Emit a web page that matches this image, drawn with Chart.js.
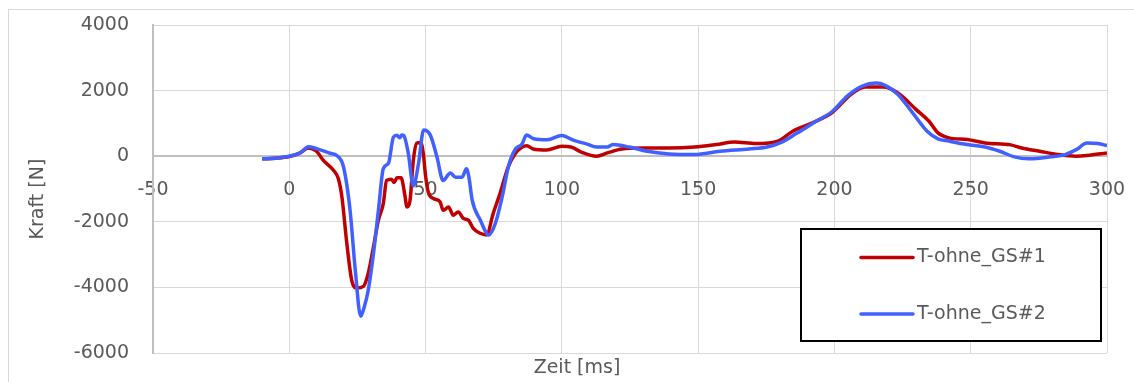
<!DOCTYPE html>
<html>
<head>
<meta charset="utf-8">
<script src="https://cdn.jsdelivr.net/npm/chart.js@4/dist/chart.umd.min.js"></script>
<style>
  html, body { margin: 0; padding: 0; background: #fff; }
  canvas { display: block; }
</style>
</head>
<body>
<canvas id="kraftChart" width="1134" height="382"></canvas>
<script>
// --- DATA ---
const seriesNames = ['T-ohne_GS#1', 'T-ohne_GS#2'];
const seriesColors = ['#C00000', '#4060FF'];

// T-ohne_GS#1 (red)
const zeit1 = [-10, -5, 0, 4, 7, 10, 12.5, 16.2, 18, 19.3, 21.1, 23, 24.8, 27.2, 29, 30.9, 32.7, 34.5, 35.7, 37.5, 38.5, 39.5, 41,
  42.5, 43.1, 44.3, 45.5, 46.8, 48.2, 49.2, 50, 51, 52.9, 55.3, 56.5, 58.4, 60.2, 62, 63.9, 65.7, 67.5, 70, 72.4, 74.8, 77.3,
  80.3, 82.8, 85.3, 87.1, 89.5, 94.4, 100, 103.3, 107.3, 112.7, 116.7, 122, 130, 139.3, 148.7, 156.7, 163.3, 171.3, 179.3,
  184.7, 191.3, 199.3, 206, 211.3, 218, 223.3, 230, 234.7, 238, 242, 248.7, 255.3, 264.7, 268.7, 275.3, 282, 288.7, 292.7, 300];
const kraft1 = [-80, -60, -10, 100, 250, 150, -130, -430, -690, -1240, -2650, -3820, -4020, -3970, -3560, -2760, -1950, -1440, -740, -700, -800, -660, -660,
  -1240, -1550, -1340, -130, 400, 420, 60, -600, -1100, -1290, -1390, -1650, -1550, -1800, -1700, -1900, -1950, -2200, -2350, -2400, -1750, -1140,
  -330, 70, 270, 320, 220, 190, 300, 280, 120, 0, 100, 220, 250, 250, 280, 355, 430, 385, 460,
  760, 995, 1340, 1880, 2110, 2110, 1930, 1420, 1065, 710, 560, 510, 405, 345, 250, 150, 50, 0, 20, 100];

// T-ohne_GS#2 (blue)
const zeit2 = [-10, -5, 0, 4, 7, 10, 15, 17.4, 19.9, 22.3, 24.2, 26.2, 27.5, 29, 30.9, 32.7, 34.5, 36.4, 38.2, 39.5, 40.5, 41.3, 42,
  43.6, 45.5, 47.4, 49.3, 51.7, 54.2, 56.4, 59.1, 61, 63.4, 65, 65.9, 67.1, 70.1, 73.2, 75.6, 78.1, 80.5, 83, 85.4, 87, 89.7,
  94.6, 100, 104.4, 109.3, 112.7, 116.7, 118.7, 124.7, 131.3, 139.3, 148.7, 158, 168.7, 175.3, 180.7, 186, 192.7, 199.3,
  204.7, 210, 215.3, 219.3, 223.3, 228.7, 234, 238, 242, 248.7, 255.3, 260.7, 266, 271.3, 279.3, 284.7, 288.7, 292.7, 296.7, 300];
const kraft2 = [-80, -60, 0, 100, 290, 230, 90, 20, -330, -1650, -3460, -4880, -4600, -4070, -2960, -1650, -380, -210, 580, 640, 560, 650, 630,
  120, -900, -230, 800, 650, -30, -740, -510, -640, -640, -380, -640, -1340, -1950, -2400, -2050, -1240, -280, 220, 370, 650, 530,
  500, 630, 480, 370, 280, 280, 355, 280, 150, 70, 50, 150, 220, 280, 430, 690, 1035, 1370,
  1830, 2130, 2230, 2130, 1880, 1320, 760, 530, 460, 355, 280, 150, -20, -80, -20, 50, 200, 400, 385, 325];

// axis settings
const xMin = -50, xMax = 300, xStep = 50;
const yMin = -6000, yMax = 4000, yStep = 2000;
const xTitle = 'Zeit [ms]';
const yTitle = 'Kraft [N]';

const FONT = '"DejaVu Sans", sans-serif';
const TEXT_COLOR = '#595959';

function toPoints(xs, ys) {
  return xs.map((x, i) => ({ x: x, y: ys[i] }));
}

// plain numbers, no thousands separator
function plainTick(value) {
  return String(value);
}

// outer frame, axis titles and the boxed legend
const decorPlugin = {
  id: 'decor',
  beforeDraw(chart) {
    const ctx = chart.ctx;
    ctx.save();
    ctx.fillStyle = '#ffffff';
    ctx.fillRect(0, 0, chart.width, chart.height);
    ctx.strokeStyle = '#d9d9d9';
    ctx.lineWidth = 1;
    ctx.strokeRect(8.5, 9.5, chart.width + 20, chart.height + 20);
    ctx.restore();
  },
  afterDraw(chart) {
    const ctx = chart.ctx;
    ctx.save();
    ctx.font = '19px ' + FONT;
    ctx.fillStyle = TEXT_COLOR;

    // x title
    ctx.textAlign = 'center';
    ctx.textBaseline = 'alphabetic';
    ctx.fillText(xTitle, 577, 373);

    // y title
    ctx.save();
    ctx.translate(43, 199);
    ctx.rotate(-Math.PI / 2);
    ctx.fillText(yTitle, 0, 0);
    ctx.restore();

    // legend box
    ctx.fillStyle = '#ffffff';
    ctx.fillRect(801, 229, 300, 112);
    ctx.strokeStyle = '#000000';
    ctx.lineWidth = 2;
    ctx.strokeRect(801, 229, 300, 112);

    const rowsY = [257.5, 314];
    chart.data.datasets.forEach((ds, i) => {
      const y = rowsY[i];
      ctx.strokeStyle = ds.borderColor;
      ctx.lineWidth = 3.5;
      ctx.lineCap = 'round';
      ctx.beginPath();
      ctx.moveTo(861, y);
      ctx.lineTo(913, y);
      ctx.stroke();
      ctx.fillStyle = TEXT_COLOR;
      ctx.textAlign = 'left';
      ctx.textBaseline = 'middle';
      ctx.fillText(ds.label, 917, y);
    });
    ctx.restore();
  }
};

document.addEventListener('DOMContentLoaded', function () {
  const canvas = document.getElementById('kraftChart');

  new Chart(canvas.getContext('2d'), {
    type: 'line',
    data: {
      datasets: [
        {
          label: seriesNames[0],
          data: toPoints(zeit1, kraft1),
          borderColor: seriesColors[0],
          backgroundColor: seriesColors[0],
          borderWidth: 3.5,
          pointRadius: 0,
          cubicInterpolationMode: 'monotone',
          order: 1
        },
        {
          label: seriesNames[1],
          data: toPoints(zeit2, kraft2),
          borderColor: seriesColors[1],
          backgroundColor: seriesColors[1],
          borderWidth: 3.5,
          pointRadius: 0,
          cubicInterpolationMode: 'monotone',
          order: 0
        }
      ]
    },
    options: {
      responsive: false,
      animation: false,
      layout: { padding: { left: 0, top: 25, right: 27, bottom: 29 } },
      plugins: {
        legend: { display: false },
        tooltip: { enabled: false }
      },
      scales: {
        x: {
          type: 'linear',
          position: { y: 0 },
          min: xMin,
          max: xMax,
          // labels may hang over the plot edge, like in Excel
          afterFit(scale) { scale.paddingLeft = 0; scale.paddingRight = 0; },
          ticks: {
            stepSize: xStep,
            autoSkip: false,
            maxRotation: 0,
            padding: 22,
            color: TEXT_COLOR,
            font: { family: FONT, size: 19 },
            callback: plainTick
          },
          grid: { color: '#d9d9d9', lineWidth: 1, drawTicks: false },
          border: { color: '#bfbfbf', width: 2 }
        },
        y: {
          type: 'linear',
          min: yMin,
          max: yMax,
          afterFit(scale) {
            scale.width = 153;
            scale.paddingTop = 0;
            scale.paddingBottom = 0;
          },
          ticks: {
            stepSize: yStep,
            padding: 24,
            color: TEXT_COLOR,
            font: { family: FONT, size: 19 },
            callback: plainTick
          },
          grid: { color: '#d9d9d9', lineWidth: 1, drawTicks: false },
          border: { color: '#bfbfbf', width: 2 }
        }
      }
    },
    plugins: [decorPlugin]
  });
});
</script>
</body>
</html>
